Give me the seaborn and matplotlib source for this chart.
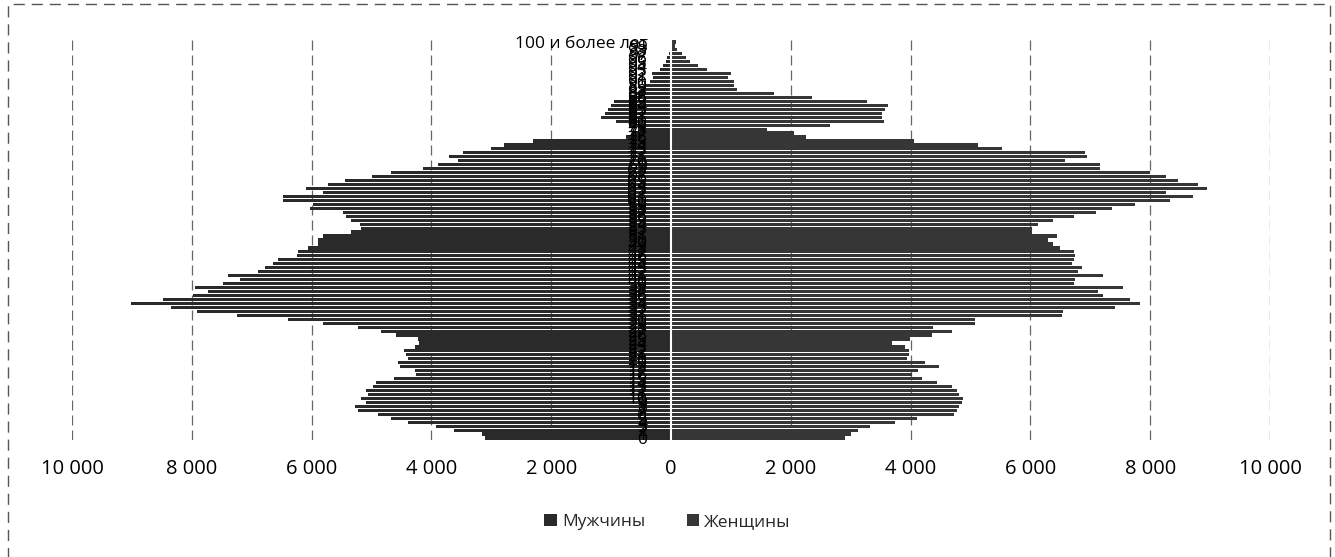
import matplotlib
matplotlib.use("Agg")
import matplotlib.pyplot as plt
from matplotlib.patches import Rectangle
import seaborn as sns
import pandas as pd

# ---- data (ages 0 .. 100+) ----
age_labels = [str(a) for a in range(100)] + ["100 и более лет"]

men = [3100, 3150, 3620, 3920, 4390, 4670, 4890, 5230, 5280, 5090,
       5170, 5060, 5090, 4980, 4920, 4620, 4250, 4280, 4530, 4560,
       4390, 4420, 4450, 4280, 4200, 4230, 4590, 4840, 5230, 5810,
       6390, 7250, 7920, 8340, 9010, 8480, 7980, 7730, 7950, 7480,
       7200, 7390, 6900, 6780, 6650, 6560, 6250, 6230, 6060, 5890,
       5890, 5810, 5340, 5170, 5200, 5340, 5420, 5480, 6030, 5980,
       6480, 6480, 5810, 6090, 5730, 5450, 5000, 4670, 4140, 3890,
       3560, 3700, 3480, 3000, 2780, 2310, 750, 650, 550, 700,
       920, 1170, 1100, 1050, 1000, 950, 700, 600, 500, 420,
       350, 300, 320, 180, 130, 90, 60, 40, 25, 15,
       20]

women = [2900, 3000, 3130, 3330, 3740, 4100, 4720, 4770, 4800, 4860,
         4880, 4800, 4770, 4690, 4440, 4190, 4020, 4130, 4470, 4240,
         3940, 3970, 3970, 3910, 3690, 3990, 4360, 4690, 4380, 5080,
         5080, 6520, 6550, 7410, 7830, 7660, 7220, 7130, 7550, 6720,
         6740, 7220, 6800, 6860, 6690, 6720, 6740, 6720, 6490, 6380,
         6300, 6440, 6020, 6020, 6130, 6380, 6720, 7100, 7360, 7740,
         8330, 8720, 8270, 8940, 8800, 8470, 8270, 7995, 7160, 7160,
         6580, 6940, 6910, 5520, 5130, 4050, 2250, 2050, 1600, 2660,
         3550, 3520, 3520, 3580, 3630, 3270, 2350, 1720, 1100, 1050,
         1050, 950, 1000, 600, 450, 320, 250, 180, 100, 60,
         80]

series_names = ["Мужчины", "Женщины"]
x_ticks = list(range(-10000, 10001, 2000))

# ---- table ----
df = pd.DataFrame({
    "age": age_labels * 2,
    "value": [-v for v in men] + women,
    "sex": [series_names[0]] * len(men) + [series_names[1]] * len(women),
})

sns.set_style("white")
plt.rcParams["font.family"] = ["Open Sans", "DejaVu Sans"]

fig = plt.figure(figsize=(13.35, 5.57), dpi=100)
ax = fig.add_axes([72 / 1335, 1 - 440 / 557, (1270 - 72) / 1335, 400 / 557])

order = age_labels[::-1]
sns.barplot(data=df, x="value", y="age", hue="sex", order=order,
            hue_order=series_names, palette=["#2a2a2a", "#363636"],
            dodge=False, errorbar=None, width=0.8, saturation=1,
            linewidth=0, ax=ax, zorder=2)

handles, labels = ax.get_legend_handles_labels()
if ax.get_legend() is not None:
    ax.get_legend().remove()

ax.set_xlim(-10000, 10000)
ax.set_xticks(x_ticks)
ax.set_xticklabels([f"{abs(v):,}".replace(",", " ") for v in x_ticks])
ax.set_xlabel("")
ax.set_ylabel("")

for s in ax.spines.values():
    s.set_visible(False)
ax.spines["left"].set_position(("data", 0))

ax.tick_params(axis="y", length=0, pad=17, labelsize=12.5, colors="black")
ax.tick_params(axis="x", length=0, pad=14, labelsize=14.5, colors="black")

# dashed vertical gridlines drawn below the bars, axis labels stay on top
ax.grid(False)
ax.vlines([t for t in x_ticks if t != 0], -0.5, len(age_labels) - 0.5,
          colors="#666666", linestyles=(0, (8, 4)), lw=0.9, zorder=1)
ax.set_ylim(len(age_labels) - 0.5, -0.5)
ax.yaxis.set_zorder(6)

ax.axvline(0, color="white", lw=1.5, zorder=5)

fig.legend(handles, labels, loc="center", bbox_to_anchor=(0.5, 0.063),
           ncol=2, frameon=False, fontsize=12.5, handlelength=0.7,
           handleheight=0.7, handletextpad=0.3, columnspacing=2.4)

fig.patches.append(Rectangle((0.006, -0.05), 0.99, 1.043, transform=fig.transFigure,
                             fill=False, ls=(0, (8, 5)), ec="#555555", lw=1))

fig.savefig("out.png", dpi=100)
